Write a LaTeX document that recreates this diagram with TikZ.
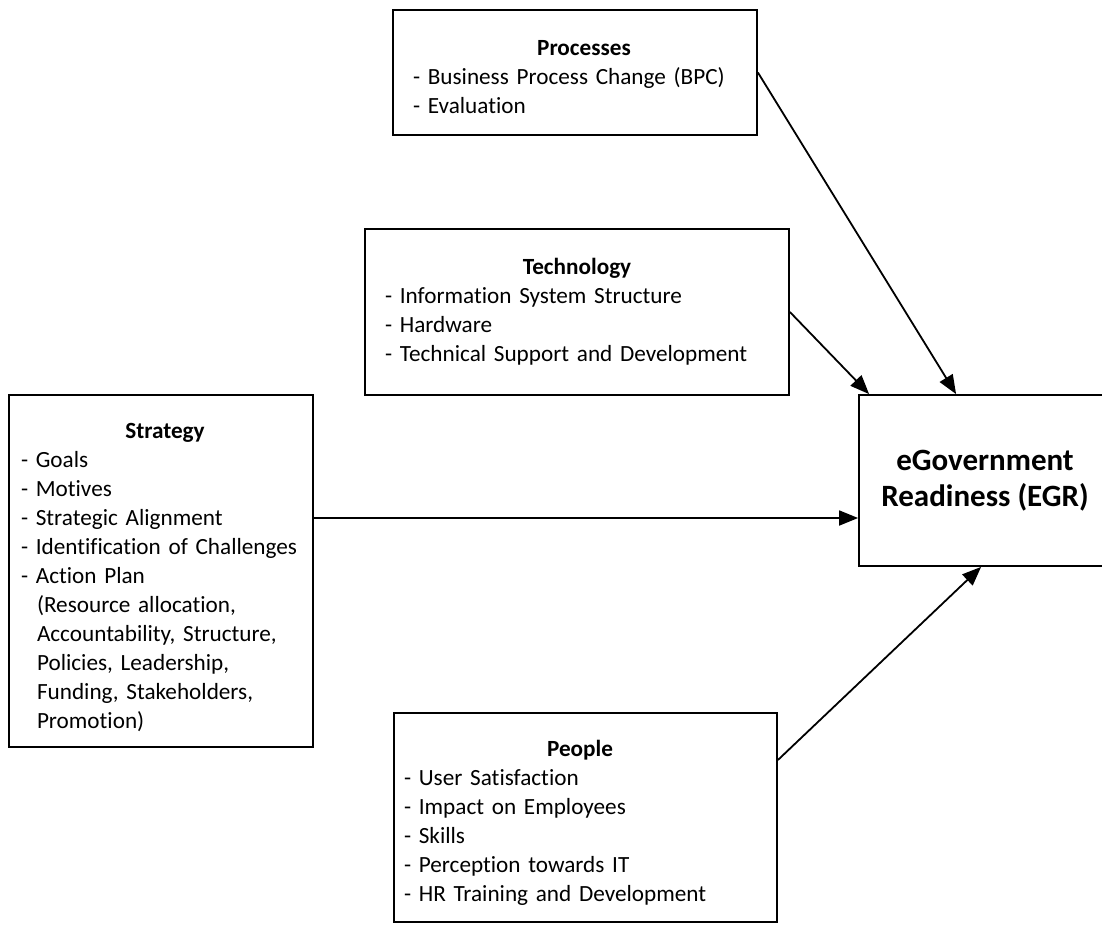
\documentclass[tikz,border=0pt]{standalone}
\usepackage{fontspec}
\setmainfont{Carlito}[Ligatures={NoCommon}]
\usetikzlibrary{arrows.meta,calc}
\begin{document}
\begin{tikzpicture}[x=1pt,y=-1pt,
  box/.style={draw=black, line width=1.8pt, rectangle, inner ysep=0pt, align=left,
              font=\fontsize{23.2}{29}\selectfont},
  conn/.style={line width=1.8pt, -{Triangle[length=19pt,width=15pt]}},
]
\useasboundingbox (0,0) rectangle (1102,924);

\node[box, minimum height=125pt, inner xsep=20pt, text width=324pt] (proc) at (575,72.5)
  {\makebox[\linewidth]{\rule{0pt}{25pt}\hspace{18pt}\textbf{Processes}}\\
   - Business Process Change (BPC)\\
   - Evaluation};

\node[box, minimum height=166pt, inner xsep=20pt, text width=384pt] (tech) at (577,312)
  {\makebox[\linewidth]{\textbf{Technology}}\\
   - Information System Structure\\
   - Hardware\\
   - Technical Support and Development};

\node[box, minimum height=352pt, inner xsep=12pt, text width=280pt] (strat) at (161,571)
  {\makebox[\linewidth]{\rule{0pt}{29pt}\hspace{8pt}\textbf{Strategy}}\\
   - Goals\\
   - Motives\\
   - Strategic Alignment\\
   \mbox{- Identification of Challenges}\\
   - Action Plan\\
   \hspace*{16pt}(Resource allocation,\\
   \hspace*{16pt}Accountability, Structure,\\
   \hspace*{16pt}Policies, Leadership,\\
   \hspace*{16pt}Funding, Stakeholders,\\
   \hspace*{16pt}Promotion)};

\node[box, minimum height=209pt, inner xsep=10pt, text width=363pt] (people) at (585.5,817.5)
  {\makebox[\linewidth]{\rule{0pt}{26pt}\hspace{-11pt}\textbf{People}}\\
   - User Satisfaction\\
   - Impact on Employees\\
   - Skills\\
   - Perception towards IT\\
   - HR Training and Development};

\node[box, align=center, font=\bfseries\fontsize{31}{36}\selectfont,
      minimum width=252pt, minimum height=171pt, inner xsep=0pt] (egr) at (985,480.5)
  {eGovernment\\Readiness (EGR)};

\coordinate (sin) at ($(egr.west)+(0,37.5)$);
\draw[conn] (proc.east) -- ($(egr.north west)+(98,0)$);
\draw[conn] (tech.east) -- ($(egr.north west)+(11,0)$);
\draw[conn] (strat.east |- sin) -- (sin);
\draw[conn] ($(people.east)+(0,-57.5)$) -- ($(egr.south west)+(123,0)$);
\end{tikzpicture}
\end{document}
